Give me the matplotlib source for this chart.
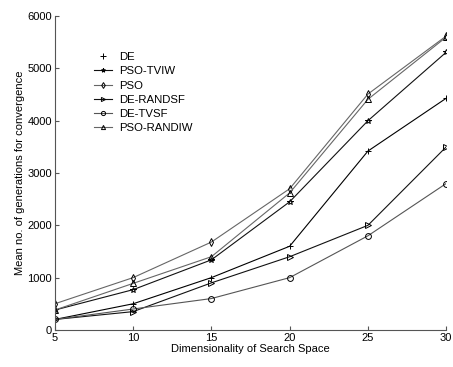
import matplotlib
matplotlib.use("Agg")
import matplotlib.pyplot as plt
from matplotlib.lines import Line2D

plt.rcParams['font.family'] = ['Liberation Sans', 'DejaVu Sans']

dims = [5, 10, 15, 20, 25, 30]
de = [200, 500, 1000, 1600, 3420, 4430]
pso_tviw = [380, 770, 1340, 2450, 4000, 5310]
pso = [500, 1000, 1680, 2700, 4510, 5620]
de_randsf = [200, 350, 900, 1400, 2000, 3500]
de_tvsf = [200, 400, 600, 1000, 1800, 2800]
pso_randiw = [380, 890, 1400, 2620, 4410, 5600]

labels = ["DE", "PSO-TVIW", "PSO", "DE-RANDSF", "DE-TVSF", "PSO-RANDIW"]
series = [de, pso_tviw, pso, de_randsf, de_tvsf, pso_randiw]
markers = ['+', '*', 'd', '>', 'o', '^']
colors = ['#000000', '#111111', '#666666', '#111111', '#555555', '#666666']

fig = plt.figure(figsize=(4.53, 3.67), dpi=100)
ax = fig.add_axes([0.121, 0.101, 0.864, 0.855])

handles = []
for ys, lab, m, c in zip(series, labels, markers, colors):
    ax.plot(dims, ys, color=c, lw=0.8, marker=m, markersize=4.2,
            markerfacecolor='none', markeredgecolor='#000000', markeredgewidth=0.7)
    if lab == "DE":
        handles.append(Line2D([], [], color=c, lw=0, marker=m, markersize=4.5,
                              markeredgecolor='#000000', markeredgewidth=0.7))
    else:
        handles.append(Line2D([], [], color=c, lw=0.8, marker=m, markersize=3,
                              markerfacecolor='none', markeredgecolor='#000000', markeredgewidth=0.7))

ax.set_xlim(5, 30)
ax.set_ylim(0, 6000)
ax.set_xticks(dims)
ax.set_yticks([0, 1000, 2000, 3000, 4000, 5000, 6000])
ax.spines['top'].set_visible(False)
ax.spines['right'].set_visible(False)
for s in ['left', 'bottom']:
    ax.spines[s].set_color('#555555')
    ax.spines[s].set_linewidth(0.8)
ax.tick_params(direction='in', length=3, labelsize=8, width=0.8, color='#555555', pad=2)
ax.set_xlabel("Dimensionality of Search Space", fontsize=8, labelpad=1)
ax.set_ylabel("Mean no. of generations for convergence", fontsize=8, labelpad=2)

ax.legend(handles, labels, loc='upper left', bbox_to_anchor=(0.08, 0.91), frameon=False,
          fontsize=8.2, handlelength=1.6, handletextpad=0.6, labelspacing=0.36, borderpad=0.2)

fig.savefig("out.png", dpi=100)
